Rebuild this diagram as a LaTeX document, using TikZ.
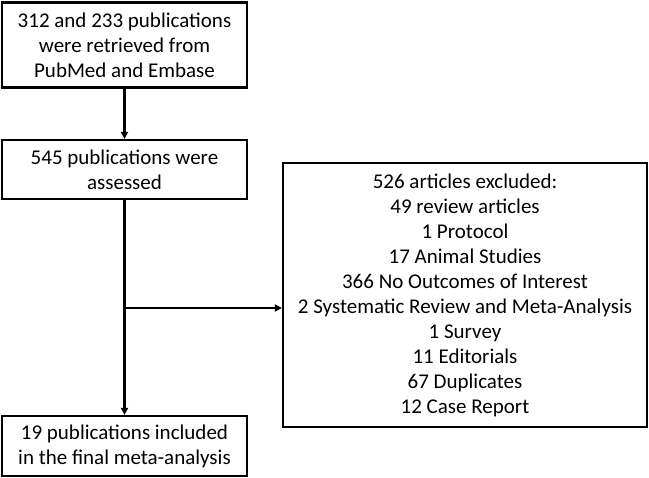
\documentclass[tikz,border=0pt]{standalone}
\usepackage{fontspec}
\setmainfont{Carlito}
\usetikzlibrary{arrows.meta}
\begin{document}
\begin{tikzpicture}[x=1pt,y=-1pt,
  box/.style={draw=black,line width=2.2pt,align=center,inner sep=0pt,
    font=\fontsize{21}{25}\selectfont},
  conn/.style={line width=2.2pt,-{Triangle[length=7pt,width=7pt]}}]
\useasboundingbox (0,0) rectangle (649,478);
\node[box,minimum width=245pt,minimum height=85pt] (src) at (124.5,45) {312 and 233 publications\\were retrieved from\\PubMed and Embase};
\node[box,minimum width=245pt,minimum height=59pt] (ass) at (124.5,169.5) {545 publications were\\assessed};
\node[box,minimum width=245pt,minimum height=60pt] (inc) at (124.5,446) {19 publications included\\in the final meta-analysis};
\node[box,minimum width=364pt,minimum height=264pt] (exc) at (465,295) {526 articles excluded:\\49 review articles\\1 Protocol\\17 Animal Studies\\366 No Outcomes of Interest\\2 Systematic Review and Meta-Analysis\\1 Survey\\11 Editorials\\67 Duplicates\\12 Case Report};
\coordinate (br) at (124.5,308);
\draw[conn] (src) -- (ass);
\draw[conn] (ass) -- (inc);
\draw[conn] (br) -- (br -| exc.west);
\end{tikzpicture}
\end{document}
